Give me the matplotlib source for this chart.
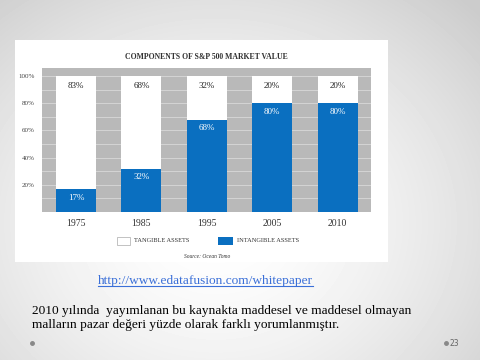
import numpy as np
import matplotlib
matplotlib.use("Agg")
import matplotlib.pyplot as plt
from matplotlib.patches import Rectangle
from matplotlib.lines import Line2D

# DATA
years = ["1975", "1985", "1995", "2005", "2010"]
intangible = [17, 32, 68, 80, 80]
tangible = [83, 68, 32, 20, 20]
yticks = [20, 40, 60, 80, 100]
ytick_labels = ["20%", "40%", "60%", "80%", "100%"]

blue = "#0a6fc0"
serif = ["Liberation Serif", "DejaVu Serif"]

fig = plt.figure(figsize=(4.8, 3.6), dpi=100)

# SLIDE BACKGROUND (radial gray gradient)
bg = fig.add_axes([0, 0, 1, 1])
yy, xx = np.mgrid[0:1:360j, 0:1:480j]
r = np.sqrt(((xx - 0.45) / 0.75) ** 2 + ((yy - 0.62) / 0.85) ** 2)
bg.imshow(1 - 0.2 * np.clip(r, 0, 1) ** 1.6, cmap="gray", vmin=0, vmax=1,
          extent=[0, 1, 0, 1], aspect="auto", origin="upper")
bg.set_xlim(0, 1)
bg.set_ylim(0, 1)
bg.axis("off")

# WHITE IMAGE BOX
bg.add_patch(Rectangle((15 / 480, 1 - 262 / 360), 373 / 480, 222 / 360,
                       facecolor="white", edgecolor="none"))

# CHART
ax = fig.add_axes([42 / 480, 1 - 212 / 360, 329 / 480, 144 / 360])
ax.set_facecolor("#b9b9b9")
x = np.arange(len(years))
ax.bar(x, intangible, width=0.61, color=blue, zorder=3)
ax.bar(x, tangible, bottom=intangible, width=0.61, color="white", zorder=3)
for g in range(10, 110, 10):
    ax.axhline(g, color="#d4d4d4", lw=0.7, zorder=1)
for i in range(len(years)):
    ax.text(x[i], 93, f"{tangible[i]}%", ha="center", va="center",
            fontsize=6.5, family=serif, color="#222222", zorder=4)
    ax.text(x[i], intangible[i] - 6.5, f"{intangible[i]}%", ha="center",
            va="center", fontsize=6.5, family=serif, color="white", zorder=4)
ax.set_xlim(-0.52, 4.51)
ax.set_ylim(0, 106)
ax.set_xticks(x)
ax.set_xticklabels(years, family=serif, fontsize=7, color="#333333")
ax.set_yticks(yticks)
ax.set_yticklabels(ytick_labels, family=serif, fontsize=5, color="#444444")
ax.tick_params(length=0, pad=5)
for s in ax.spines.values():
    s.set_visible(False)

# TITLE / LEGEND / SOURCE
fig.text(206 / 480, 1 - 57 / 360, "COMPONENTS OF S&P 500 MARKET VALUE",
         ha="center", va="center", fontsize=5.6, fontweight="bold",
         family=serif, color="#333333")
bg.add_patch(Rectangle((117 / 480, 1 - 245 / 360), 13 / 480, 8 / 360,
                       facecolor="white", edgecolor="#aaaaaa", lw=0.5))
fig.text(134 / 480, 1 - 241 / 360, "TANGIBLE ASSETS", ha="left",
         va="center", fontsize=4.6, family=serif, color="#333333")
bg.add_patch(Rectangle((218 / 480, 1 - 245 / 360), 15 / 480, 8 / 360,
                       facecolor=blue, edgecolor="none"))
fig.text(237 / 480, 1 - 241 / 360, "INTANGIBLE ASSETS", ha="left",
         va="center", fontsize=4.6, family=serif, color="#333333")
fig.text(207 / 480, 1 - 256 / 360, "Source: Ocean Tomo", ha="center",
         va="center", fontsize=4, style="italic", family=serif,
         color="#333333")

# SLIDE TEXT
url = fig.text(205 / 480, 1 - 281 / 360, "http://www.edatafusion.com/whitepaper",
               ha="center", va="center", fontsize=9.6, family=serif,
               color="#3a6fd8")
fig.text(32 / 480, 1 - 311 / 360,
         "2010 yılında  yayımlanan bu kaynakta maddesel ve maddesel olmayan",
         ha="left", va="center", fontsize=9.6, family=serif, color="black")
fig.text(32 / 480, 1 - 325 / 360,
         "malların pazar değeri yüzde olarak farklı yorumlanmıştır.",
         ha="left", va="center", fontsize=9.6, family=serif, color="black")
fig.text(449 / 480, 1 - 343 / 360, "23", ha="left", va="center",
         fontsize=5.5, color="#666666")
bg.plot([32 / 480, 446 / 480], [1 - 343 / 360] * 2, "o", ms=2.5,
        color="#888888")

# underline for the url
fig.canvas.draw()
bb = url.get_window_extent().transformed(fig.transFigure.inverted())
fig.add_artist(Line2D([bb.x0, bb.x1], [bb.y0 + 0.004, bb.y0 + 0.004],
                      color="#3a6fd8", lw=0.8, transform=fig.transFigure))

fig.savefig("out.png", dpi=100)
